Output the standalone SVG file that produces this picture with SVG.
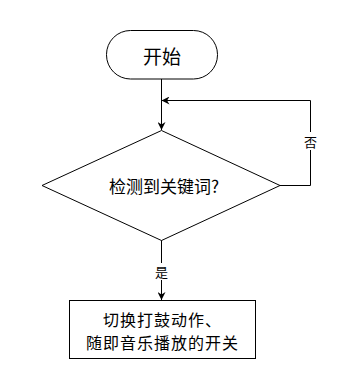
<svg xmlns="http://www.w3.org/2000/svg" width="339" height="380" viewBox="0 0 339 380">
<style>
.shape{fill:#fff;stroke:#000;stroke-width:1}
.edge{fill:none;stroke:#000;stroke-width:1}
text{font-family:"Noto Sans CJK SC","Noto Sans",sans-serif;fill:#000;text-anchor:middle;dominant-baseline:central}
.lbl{font-size:13px}
.box{font-size:16px;letter-spacing:1px}
</style>
<defs>
<marker id="arr" viewBox="0 0 10 10" refX="10" refY="5" markerWidth="8" markerHeight="8" markerUnits="userSpaceOnUse" orient="auto">
<path d="M0,0 L10,5 L0,10 L3,5 Z" fill="#000"/>
</marker>
</defs>
<rect width="339" height="380" fill="#fff"/>
<g id="connectors">
<path class="edge" d="M161.5,79 V130" marker-end="url(#arr)"/>
<path class="edge" d="M280,185.5 H310.5 V100.5 H161.5" marker-end="url(#arr)"/>
<path class="edge" d="M161.5,240 V300" marker-end="url(#arr)"/>
<rect x="303" y="132" width="15" height="18" fill="#fff"/>
<text class="lbl" x="310.5" y="141">否</text>
<rect x="154" y="263" width="15" height="17" fill="#fff"/>
<text class="lbl" x="161.5" y="271">是</text>
</g>
<g id="start">
<rect class="shape" x="106.5" y="30.5" width="111" height="48.5" rx="24" ry="24"/>
<text x="162" y="55" font-size="19">开始</text>
</g>
<g id="decision">
<path class="shape" d="M161.5,130.5 L280,185.5 L161.5,240.5 L42,185.5 Z"/>
<text x="164" y="185" font-size="17">检测到关键词?</text>
</g>
<g id="action">
<rect class="shape" x="69.5" y="300.5" width="186" height="58"/>
<text class="box" x="162.5" y="319">切换打鼓动作、</text>
<text class="box" x="162.5" y="342">随即音乐播放的开关</text>
</g>
</svg>
